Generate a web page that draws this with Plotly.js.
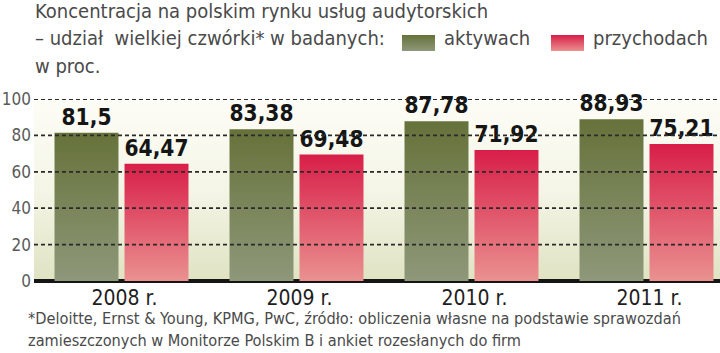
<!DOCTYPE html>
<html>
<head>
<meta charset="utf-8">
<script src="https://cdn.plot.ly/plotly-3.0.1.min.js"></script>
<style>
  html, body { margin: 0; padding: 0; background: #ffffff; }
  #chart { width: 720px; height: 353px; }
</style>
</head>
<body>
<div id="chart"></div>
<script>
// ---- data ----
const years = ['2008 r.', '2009 r.', '2010 r.', '2011 r.'];
const aktywach = [81.5, 83.38, 87.78, 88.93];
const przychodach = [64.47, 69.48, 71.92, 75.21];
const yTicks = [0, 20, 40, 60, 80, 100];
const seriesNames = ['aktywach', 'przychodach'];
const titleLines = [
  'Koncentracja na polskim rynku usług audytorskich',
  '– udział  wielkiej czwórki* w badanych:',
  'w proc.'
];
const footLines = [
  '*Deloitte, Ernst &amp; Young, KPMG, PwC, źródło: obliczenia własne na podstawie sprawozdań',
  'zamieszczonych w Monitorze Polskim B i ankiet rozesłanych do firm'
];

// ---- geometry helpers (pixel -> paper) ----
const W = 720, H = 353;
const M = {l: 34, r: 0, t: 99, b: 72};
const PW = W - M.l - M.r, PH = H - M.t - M.b;
const px = x => (x - M.l) / PW;
const py = y => (H - M.b - y) / PH;

const FONT = '"DejaVu Sans Condensed", "Liberation Sans", sans-serif';
const fmt = v => String(v).replace('.', ',');

const common = {
  type: 'bar',
  x: years,
  textposition: 'outside',
  cliponaxis: false,
  constraintext: 'none',
  textfont: {family: FONT, size: 22.5, color: '#151515', weight: 'bold'},
  hoverinfo: 'skip',
  showlegend: false
};

const traces = [
  Object.assign({}, common, {
    name: seriesNames[0], y: aktywach, text: aktywach.map(fmt),
    marker: {color: '#76803f'}
  }),
  Object.assign({}, common, {
    name: seriesNames[1], y: przychodach, text: przychodach.map(fmt),
    marker: {color: '#dc4058'}
  })
];

const annotations = [];
const titleBase = [20, 47, 75];
const TF = {family: FONT, size: 20, color: '#4a4a4a'};
titleLines.forEach((t, i) => {
  annotations.push({
    xref: 'paper', yref: 'paper', x: px(33), y: py(titleBase[i] + 5),
    xanchor: 'left', yanchor: 'bottom', showarrow: false, text: t, font: TF
  });
});
// legend labels
annotations.push({
  xref: 'paper', yref: 'paper', x: px(442), y: py(47 + 5),
  xanchor: 'left', yanchor: 'bottom', showarrow: false, text: seriesNames[0], font: TF
});
annotations.push({
  xref: 'paper', yref: 'paper', x: px(591), y: py(47 + 5),
  xanchor: 'left', yanchor: 'bottom', showarrow: false, text: seriesNames[1], font: TF
});
const footBase = [326, 348];
footLines.forEach((t, i) => {
  annotations.push({
    xref: 'paper', yref: 'paper', x: px(26), y: py(footBase[i] + 4),
    xanchor: 'left', yanchor: 'bottom', showarrow: false, text: t,
    font: {family: FONT, size: 16.2, color: '#4a4a4a'}
  });
});

const shapes = [
  {type: 'rect', xref: 'paper', yref: 'paper', x0: px(402), x1: px(435), y0: py(51), y1: py(35),
   fillcolor: '#76803f', line: {width: 0}, layer: 'above'},
  {type: 'rect', xref: 'paper', yref: 'paper', x0: px(551), x1: px(584), y0: py(51), y1: py(35),
   fillcolor: '#dc4058', line: {width: 0}, layer: 'above'}
];
// dashed gridlines drawn over the bars, as in the reference
yTicks.filter(v => v > 0).forEach(v => {
  shapes.push({
    type: 'line', xref: 'paper', yref: 'y', x0: 0, x1: 1, y0: v, y1: v,
    line: {color: '#2a2a2a', width: 1.8, dash: '4px,3px'}, layer: 'above'
  });
});

const layout = {
  width: W, height: H,
  margin: M,
  paper_bgcolor: '#ffffff',
  plot_bgcolor: '#eef0dc',
  barmode: 'group',
  bargap: 0.2,
  bargroupgap: 0.086,
  showlegend: false,
  xaxis: {
    type: 'category', range: [-0.5, 3.42],
    showgrid: false, zeroline: false, showline: false, ticks: '',
    tickfont: {family: FONT, size: 21, color: '#1e1e1e'},
    ticklabelshift: 3, ticklabelstandoff: 2, fixedrange: true
  },
  yaxis: {
    range: [0, 100], tickvals: yTicks, ticktext: yTicks.map(String),
    layer: 'above traces',
    showgrid: false,
    zeroline: true, zerolinecolor: '#151515', zerolinewidth: 3.5,
    showline: false, ticks: '', ticklabelstandoff: 2,
    tickfont: {family: FONT, size: 17, color: '#5a5a5a'}, fixedrange: true
  },
  annotations: annotations,
  shapes: shapes
};

Plotly.newPlot('chart', traces, layout, {displayModeBar: false, staticPlot: true}).then(gd => {
  const svg = gd.querySelector('svg.main-svg');
  const ns = 'http://www.w3.org/2000/svg';
  let defs = svg.querySelector('defs');
  if (!defs) { defs = document.createElementNS(ns, 'defs'); svg.insertBefore(defs, svg.firstChild); }
  function grad(id, stops) {
    const g = document.createElementNS(ns, 'linearGradient');
    g.setAttribute('id', id);
    g.setAttribute('x1', '0'); g.setAttribute('y1', '0');
    g.setAttribute('x2', '0'); g.setAttribute('y2', '1');
    stops.forEach(([o, c]) => {
      const s = document.createElementNS(ns, 'stop');
      s.setAttribute('offset', o); s.setAttribute('stop-color', c);
      g.appendChild(s);
    });
    defs.appendChild(g);
  }
  grad('gGreen', [[0, '#66723a'], [1, '#8e987a']]);
  grad('gRed', [[0, '#d81e48'], [1, '#ea9190']]);
  grad('gBg', [[0, '#fdfdf7'], [0.5, '#f4f5e6'], [1, '#dfe3c2']]);
  const traceGroups = gd.querySelectorAll('.barlayer .trace');
  const ids = ['gGreen', 'gRed'];
  traceGroups.forEach((tg, i) => {
    tg.querySelectorAll('.point path').forEach(p => { p.style.fill = 'url(#' + ids[i] + ')'; });
  });
  const bg = gd.querySelector('.bglayer rect.bg');
  if (bg) bg.style.fill = 'url(#gBg)';
  const sh = gd.querySelectorAll('.layer-above .shapelayer path');
  if (sh.length >= 2) {
    sh[0].style.fill = 'url(#gGreen)';
    sh[1].style.fill = 'url(#gRed)';
  }
});
</script>
</body>
</html>
